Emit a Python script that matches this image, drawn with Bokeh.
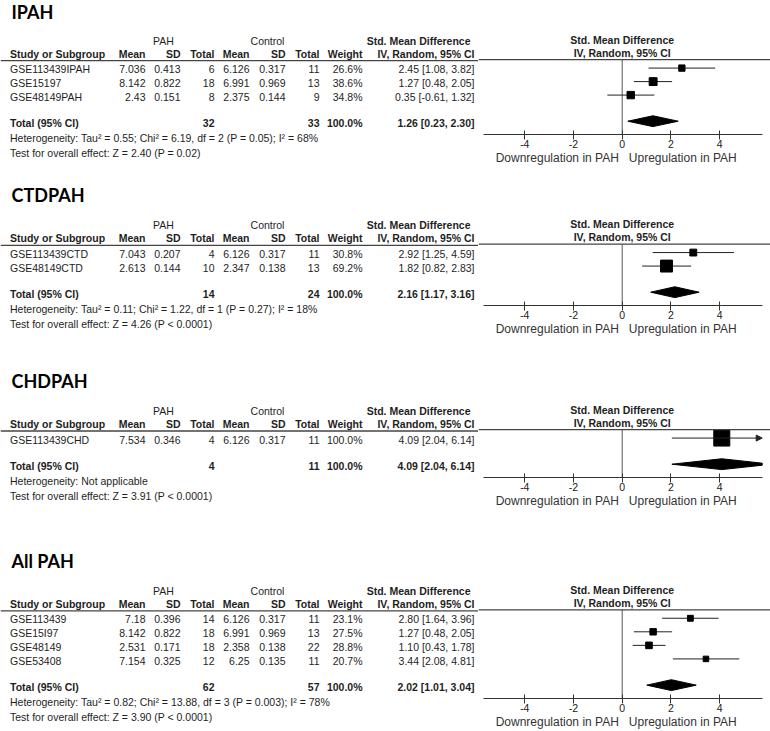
from bokeh.plotting import figure
from bokeh.layouts import column, row
from bokeh.models import Range1d, FixedTicker, Arrow, NormalHead, Span
from bokeh.core.properties import value
from bokeh.embed import file_html
from bokeh.resources import INLINE

# ---------------- data ----------------
groups = ["IPAH", "CTDPAH", "CHDPAH", "All PAH"]
studies = [["GSE113439IPAH", "GSE15197", "GSE48149PAH"],
           ["GSE113439CTD", "GSE48149CTD"],
           ["GSE113439CHD"],
           ["GSE113439", "GSE15I97", "GSE48149", "GSE53408"]]
pah_mean = [[7.036, 8.142, 2.43], [7.043, 2.613], [7.534], [7.18, 8.142, 2.531, 7.154]]
pah_sd = [[0.413, 0.822, 0.151], [0.207, 0.144], [0.346], [0.396, 0.822, 0.171, 0.325]]
pah_n = [[6, 18, 8], [4, 10], [4], [14, 18, 18, 12]]
ctl_mean = [[6.126, 6.991, 2.375], [6.126, 2.347], [6.126], [6.126, 6.991, 2.358, 6.25]]
ctl_sd = [[0.317, 0.969, 0.144], [0.317, 0.138], [0.317], [0.317, 0.969, 0.138, 0.135]]
ctl_n = [[11, 13, 9], [11, 13], [11], [11, 13, 22, 11]]
weight = [[26.6, 38.6, 34.8], [30.8, 69.2], [100.0], [23.1, 27.5, 28.8, 20.7]]
smd = [[2.45, 1.27, 0.35], [2.92, 1.82], [4.09], [2.80, 1.27, 1.10, 3.44]]
smd_lo = [[1.08, 0.48, -0.61], [1.25, 0.82], [2.04], [1.64, 0.48, 0.43, 2.08]]
smd_hi = [[3.82, 2.05, 1.32], [4.59, 2.83], [6.14], [3.96, 2.05, 1.78, 4.81]]
total_pah = [32, 14, 4, 62]
total_ctl = [33, 24, 11, 57]
total_weight = ["100.0%", "100.0%", "100.0%", "100.0%"]
pooled = [1.26, 2.16, 4.09, 2.02]
pooled_lo = [0.23, 1.17, 2.04, 1.01]
pooled_hi = [2.30, 3.16, 6.14, 3.04]
heterogeneity = ["Heterogeneity: Tau\u00b2 = 0.55; Chi\u00b2 = 6.19, df = 2 (P = 0.05); I\u00b2 = 68%",
                 "Heterogeneity: Tau\u00b2 = 0.11; Chi\u00b2 = 1.22, df = 1 (P = 0.27); I\u00b2 = 18%",
                 "Heterogeneity: Not applicable",
                 "Heterogeneity: Tau\u00b2 = 0.82; Chi\u00b2 = 13.88, df = 3 (P = 0.003); I\u00b2 = 78%"]
overall = ["Test for overall effect: Z = 2.40 (P = 0.02)",
           "Test for overall effect: Z = 4.26 (P < 0.0001)",
           "Test for overall effect: Z = 3.91 (P < 0.0001)",
           "Test for overall effect: Z = 3.90 (P < 0.0001)"]
tick_values = [-4, -2, 0, 2, 4]
tick_labels = ["-4", "-2", "0", "2", "4"]
axis_text = "Downregulation in PAH\u00a0\u00a0\u00a0Upregulation in PAH" + "\u00a0" * 5
axis_bounds = (-5.68, 5.75)

# ---------------- layout ----------------
FONT_NAME = "Liberation Sans"
FONT = value(FONT_NAME)
TFONT = value("Lato")
TXT = "#1e1e1e"
FS = "10.5px"
LW, RW = 478, 292
MB = 31
FH = [136, 140, 141, 190]          # axis position (frame height of forest part) per panel
ROW = 13.7
X_LO = -143.7 / 24.35
X_HI = (RW - 143.7) / 24.35
C_STUDY, C_PM, C_PSD, C_PN, C_CM, C_CSD, C_CN, C_W, C_CI = 9.5, 145, 180, 214, 249, 285, 319, 362, 474
C_PAH, C_CTL, C_SMDH = 163, 267, 470


def txt(p, xs, ys, texts, align="left", bold=False, size=FS, font=FONT, color=TXT):
    p.text(x=xs, y=ys, text=texts, text_align=align, text_baseline="middle",
           text_font=font, text_font_size=size,
           text_font_style="bold" if bold else "normal", text_color=color)


def ci_text(e, lo, hi):
    return f"{e:.2f} [{lo:.2f}, {hi:.2f}]"


def panel(k):
    n = len(studies[k])
    fh = FH[k]
    H = fh + MB
    axis_y = fh
    total_y = axis_y - 13.5
    L = total_y - 26.5 - ROW * (n - 1) - 8.5
    ys = [L + 8.5 + ROW * i for i in range(n)]

    left = figure(width=LW, height=H, x_range=Range1d(0, LW), y_range=Range1d(H, 0),
                  output_backend="svg", toolbar_location=None, min_border=0, frame_align=False,
                  x_axis_location=None, y_axis_location=None, outline_line_color=None)
    left.grid.visible = False

    txt(left, [11], [max(L - 50, 11)], [groups[k]], bold=True, size="18px", font=TFONT, color="#000000")
    txt(left, [C_PAH, C_CTL], [L - 20] * 2, ["PAH", "Control"], align="center")
    txt(left, [C_SMDH], [L - 20], ["Std. Mean Difference"], align="right", bold=True)
    txt(left, [C_STUDY], [L - 7], ["Study or Subgroup"], bold=True)
    txt(left, [C_PM, C_PSD, C_PN, C_CM, C_CSD, C_CN, C_W, C_CI], [L - 7] * 8,
        ["Mean", "SD", "Total", "Mean", "SD", "Total", "Weight", "IV, Random, 95% CI"],
        align="right", bold=True)
    left.add_layout(Span(location=L, dimension="width", line_color="#444444", line_width=1.3))

    txt(left, [C_STUDY] * n, ys, studies[k])
    txt(left, [C_PM] * n, ys, [str(v) for v in pah_mean[k]], align="right")
    txt(left, [C_PSD] * n, ys, [str(v) for v in pah_sd[k]], align="right")
    txt(left, [C_PN] * n, ys, [str(v) for v in pah_n[k]], align="right")
    txt(left, [C_CM] * n, ys, [str(v) for v in ctl_mean[k]], align="right")
    txt(left, [C_CSD] * n, ys, [str(v) for v in ctl_sd[k]], align="right")
    txt(left, [C_CN] * n, ys, [str(v) for v in ctl_n[k]], align="right")
    txt(left, [C_W] * n, ys, [f"{w:.1f}%" for w in weight[k]], align="right")
    txt(left, [C_CI] * n, ys, [ci_text(e, a, b) for e, a, b in zip(smd[k], smd_lo[k], smd_hi[k])], align="right")

    txt(left, [C_STUDY], [total_y], ["Total (95% CI)"], bold=True)
    txt(left, [C_PN, C_CN, C_W, C_CI], [total_y] * 4,
        [str(total_pah[k]), str(total_ctl[k]), total_weight[k],
         ci_text(pooled[k], pooled_lo[k], pooled_hi[k])], align="right", bold=True)
    txt(left, [C_STUDY, C_STUDY], [total_y + 15, total_y + 29.5], [heterogeneity[k], overall[k]])

    # forest part
    right = figure(width=RW, height=H, x_range=Range1d(X_LO, X_HI), y_range=Range1d(fh, 0),
                   output_backend="svg", toolbar_location=None, frame_align=False,
                   min_border_left=0, min_border_right=0, min_border_top=0, min_border_bottom=MB,
                   y_axis_location=None, x_axis_location="below", outline_line_color=None)
    right.grid.visible = False
    ax = right.xaxis[0]
    ax.ticker = FixedTicker(ticks=tick_values)
    ax.major_label_overrides = {t: s for t, s in zip(tick_values, tick_labels)}
    ax.bounds = axis_bounds
    ax.axis_label = axis_text
    ax.axis_label_text_font = FONT_NAME
    ax.axis_label_text_font_size = "12px"
    ax.axis_label_text_font_style = "normal"
    ax.axis_label_text_color = "#333333"
    ax.axis_label_standoff = 0
    ax.major_label_text_font = FONT_NAME
    ax.major_label_text_font_size = "10.5px"
    ax.major_label_text_color = "#222222"
    ax.major_label_standoff = 0
    ax.major_tick_in = 4
    ax.major_tick_out = 5
    ax.minor_tick_line_color = None
    ax.axis_line_color = "#333333"
    ax.major_tick_line_color = "#333333"

    txt(right, [0], [L - 20], ["Std. Mean Difference"], align="center", bold=True)
    txt(right, [0], [L - 7], ["IV, Random, 95% CI"], align="center", bold=True)
    right.add_layout(Span(location=L, dimension="width", line_color="#444444", line_width=1.3))
    right.segment(x0=[0], y0=[L], x1=[0], y1=[axis_y], line_color="#555555", line_width=1)

    amax = axis_bounds[1]
    for e, a, b, y in zip(smd[k], smd_lo[k], smd_hi[k], ys):
        if b > amax:
            right.add_layout(Arrow(end=NormalHead(size=6, fill_color="#222222", line_color="#222222"),
                                   x_start=a, y_start=y, x_end=amax, y_end=y,
                                   line_color="#222222", line_width=1))
        else:
            right.segment(x0=[a], y0=[y], x1=[b], y1=[y], line_color="#222222", line_width=1)
    sizes = [2.8 + 0.132 * w for w in weight[k]]
    right.scatter(x=smd[k], y=ys, size=sizes, marker="square", fill_color="black", line_color="black")

    h = 5.5
    lo, e, hi = pooled_lo[k], pooled[k], pooled_hi[k]
    if hi > amax:
        hc = h * (hi - amax) / (hi - e)
        dx = [lo, e, amax, amax, e]
        dy = [total_y, total_y - h, total_y - hc, total_y + hc, total_y + h]
    else:
        dx = [lo, e, hi, e]
        dy = [total_y, total_y - h, total_y, total_y + h]
    right.patch(x=dx, y=dy, fill_color="black", line_color="black")
    return row(left, right)


layout = column(*[panel(k) for k in range(len(groups))])
open("out.html", "w").write(file_html(layout, INLINE))
